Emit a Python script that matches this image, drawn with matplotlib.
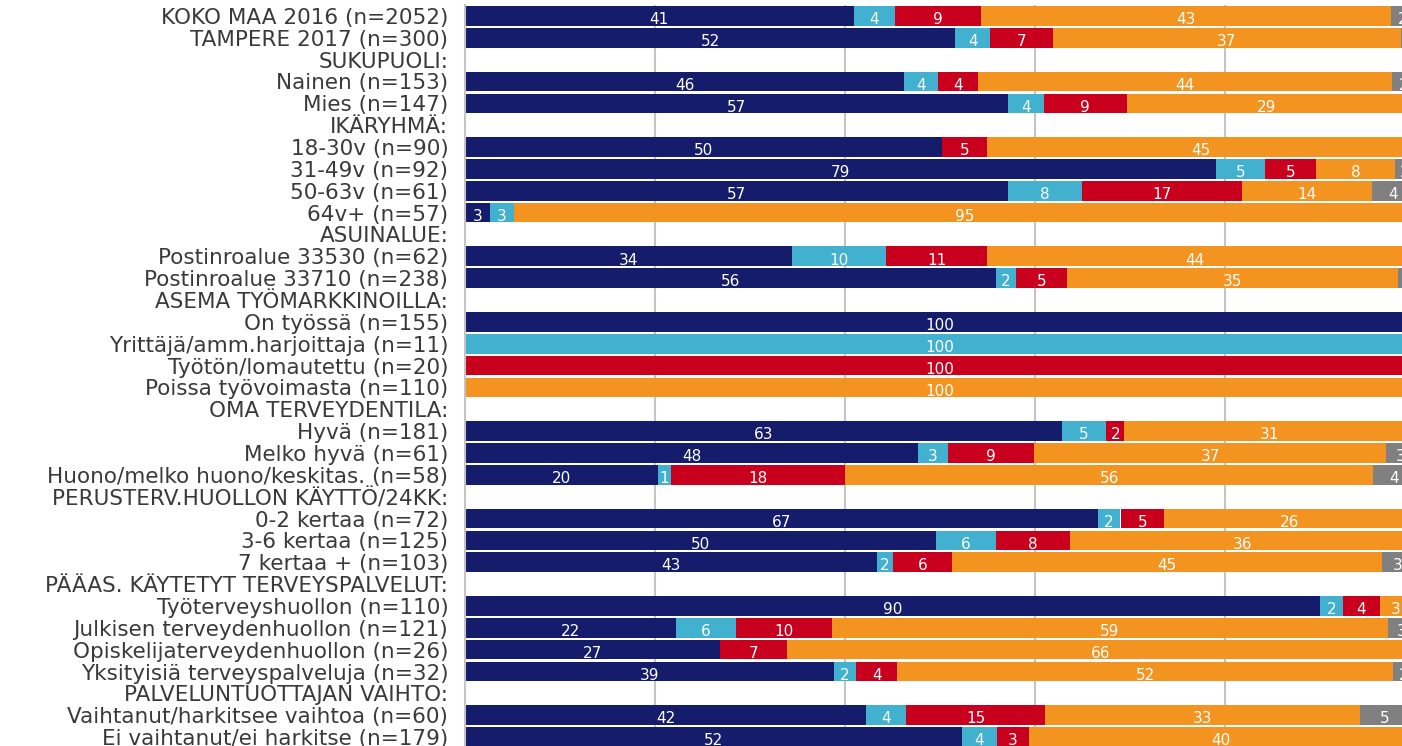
#!/usr/bin/env python3
# -*- coding: utf-8 -*-
"""
Horizontal 100 % stacked bar chart: labour market position by background group.
"""

import matplotlib
matplotlib.use('Agg')
import matplotlib.pyplot as plt
import numpy as np

# --- Configuration ---
matplotlib.rcParams['font.family'] = ['DejaVu Sans']
matplotlib.rcParams['figure.dpi'] = 100

OUTPUT_FILE = 'out.png'

# --- Data ---
ROW_LABELS = [
    'KOKO MAA 2016 (n=2052)',
    'TAMPERE 2017 (n=300)',
    'SUKUPUOLI:',
    'Nainen (n=153)',
    'Mies (n=147)',
    'IKÄRYHMÄ:',
    '18-30v (n=90)',
    '31-49v (n=92)',
    '50-63v (n=61)',
    '64v+ (n=57)',
    'ASUINALUE:',
    'Postinroalue 33530 (n=62)',
    'Postinroalue 33710 (n=238)',
    'ASEMA TYÖMARKKINOILLA:',
    'On työssä (n=155)',
    'Yrittäjä/amm.harjoittaja (n=11)',
    'Työtön/lomautettu (n=20)',
    'Poissa työvoimasta (n=110)',
    'OMA TERVEYDENTILA:',
    'Hyvä (n=181)',
    'Melko hyvä (n=61)',
    'Huono/melko huono/keskitas. (n=58)',
    'PERUSTERV.HUOLLON KÄYTTÖ/24KK:',
    '0-2 kertaa (n=72)',
    '3-6 kertaa (n=125)',
    '7 kertaa + (n=103)',
    'PÄÄAS. KÄYTETYT TERVEYSPALVELUT:',
    'Työterveyshuollon (n=110)',
    'Julkisen terveydenhuollon (n=121)',
    'Opiskelijaterveydenhuollon (n=26)',
    'Yksityisiä terveyspalveluja (n=32)',
    'PALVELUNTUOTTAJAN VAIHTO:',
    'Vaihtanut/harkitsee vaihtoa (n=60)',
    'Ei vaihtanut/ei harkitse (n=179)',
]

# percentage shares per row (0 for header rows / missing)
TYOSSA = [40.9, 51.6, 0, 46.2, 57.2, 0, 50.2, 79.1, 57.2, 2.6, 0, 34.4, 55.9, 0,
          100, 0, 0, 0, 0, 62.8, 47.7, 20.3, 0, 66.6, 49.6, 43.4, 0, 90.0, 22.2,
          26.8, 38.8, 0, 42.2, 52.3]
YRITTAJA = [4.4, 3.7, 0, 3.6, 3.7, 0, 0, 5.1, 7.7, 2.6, 0, 9.9, 2.1, 0,
            0, 100, 0, 0, 0, 4.7, 3.1, 1.4, 0, 2.4, 6.3, 1.6, 0, 2.4, 6.3,
            0, 2.4, 0, 4.2, 3.7]
TYOTON = [9.0, 6.6, 0, 4.2, 8.8, 0, 4.7, 5.4, 16.9, 0, 0, 10.7, 5.4, 0,
          0, 0, 100, 0, 0, 1.9, 9.1, 18.3, 0, 4.6, 7.8, 6.3, 0, 3.9, 10.1,
          7.1, 4.3, 0, 14.7, 3.4]
POISSA = [43.2, 36.6, 0, 43.6, 29.4, 0, 45.1, 8.3, 13.7, 94.8, 0, 43.6, 34.8, 0,
          0, 0, 0, 100, 0, 30.6, 37.1, 55.6, 0, 26.4, 36.3, 45.2, 0, 3.4, 58.6,
          66.1, 52.2, 0, 33.1, 40.3]
MUU = [2.4, 1.4, 0, 2.4, 0.9, 0, 0, 2.1, 4.4, 0, 0, 1.4, 1.8, 0,
       0, 0, 0, 0, 0, 0, 3.0, 4.4, 0, 0, 0, 3.4, 0, 0, 2.8,
       0, 2.3, 0, 5.3, 0]

SERIES = [TYOSSA, YRITTAJA, TYOTON, POISSA, MUU]
COLORS = ['#151C6B', '#41B1CF', '#C8001E', '#F39320', '#808080']


def plot_stacked_chart():
    """Draw the stacked bar chart and save it."""
    fig = plt.figure(figsize=(14.02, 7.46))
    # the original picture is cropped on the right, the axis runs past the edge
    ax = fig.add_axes([465 / 1402, -2 / 746, 950 / 1402, 743 / 746])

    y = np.arange(len(ROW_LABELS))
    left = np.zeros(len(ROW_LABELS))
    for values, color in zip(SERIES, COLORS):
        values = np.array(values, dtype=float)
        ax.barh(y, values, left=left, height=0.9, color=color,
                edgecolor='none', zorder=2)
        for yi, (l, v) in enumerate(zip(left, values)):
            if round(v) >= 1:
                ax.text(l + v / 2, yi + 0.17, f'{v:.0f}', ha='center',
                        va='center', color='white', fontsize=11, zorder=3)
        left += values

    ax.set_xlim(0, 100)
    ax.set_ylim(len(ROW_LABELS) - 0.5, -0.5)
    ax.set_yticks(y)
    ax.set_yticklabels(ROW_LABELS, fontsize=15.5, color='#3a3a3a')
    ax.tick_params(axis='y', length=0, pad=12)
    ax.set_xticks([20, 40, 60, 80])
    ax.tick_params(axis='x', length=0, labelbottom=False)
    ax.grid(True, axis='x', color='#c4c4c4', linewidth=1.5, zorder=1)
    ax.set_axisbelow(True)

    for side in ['top', 'right', 'bottom']:
        ax.spines[side].set_visible(False)
    ax.spines['left'].set_color('#c4c4c4')
    ax.spines['left'].set_linewidth(1.5)

    fig.savefig(OUTPUT_FILE, dpi=100)
    plt.close(fig)


if __name__ == "__main__":
    plot_stacked_chart()
